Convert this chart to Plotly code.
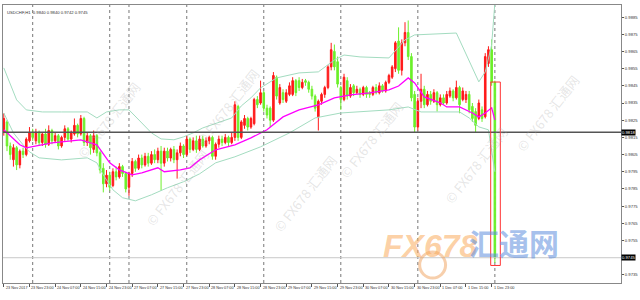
import plotly.graph_objects as go

# ---------------- data ----------------
header_text = "USDCHF,H1  0.9840 0.9840 0.9742 0.9745"

open_ = [0.9818,0.9824,0.9810,0.9802,0.9809,0.9799,0.9807,0.9805,0.9813,0.9818,
         0.9813,0.9818,0.9812,0.9817,0.9811,0.9819,0.9813,0.9816,0.9810,0.9815,
         0.9820,0.9814,0.9817,0.9822,0.9817,0.9826,0.9812,0.9816,0.9808,0.9816,
         0.9806,0.9797,0.9788,0.9793,0.9787,0.9795,0.9792,0.9798,0.9794,0.9786,
         0.9794,0.9801,0.9797,0.9803,0.9799,0.9804,0.9800,0.9805,0.9802,0.9807,
         0.9800,0.9807,0.9803,0.9808,0.9802,0.9806,0.9810,0.9805,0.9814,0.9808,
         0.9813,0.9808,0.9814,0.9810,0.9813,0.9815,0.9804,0.9811,0.9814,0.9812,
         0.9815,0.9812,0.9815,0.9833,0.9815,0.9822,0.9826,0.9821,0.9823,0.9837,
         0.9835,0.9841,0.9832,0.9832,0.9825,0.9850,0.9835,0.9841,0.9836,0.9840,
         0.9840,0.9848,0.9848,0.9844,0.9848,0.9847,0.9843,0.9839,0.9827,0.9836,
         0.9840,0.9844,0.9856,0.9865,0.9859,0.9844,0.9837,0.9848,0.9839,0.9845,
         0.9841,0.9843,0.9840,0.9844,0.9841,0.9840,0.9844,0.9841,0.9845,0.9842,
         0.9847,0.9850,0.9855,0.9871,0.9854,0.9870,0.9876,0.9862,0.9840,0.9821,
         0.9836,0.9843,0.9834,0.9840,0.9836,0.9841,0.9834,0.9838,0.9835,0.9839,
         0.9842,0.9838,0.9844,0.9837,0.9837,0.9840,0.9833,0.9830,0.9826,0.9831,
         0.9827,0.9858,0.9866,0.9847]
high = [0.9829,0.9825,0.9812,0.9811,0.9810,0.9808,0.9809,0.9815,0.9821,0.9820,
        0.9820,0.9819,0.9818,0.9820,0.9822,0.9820,0.9818,0.9817,0.9816,0.9822,
        0.9821,0.9819,0.9826,0.9823,0.9828,0.9827,0.9818,0.9817,0.9819,0.9817,
        0.9807,0.9800,0.9796,0.9795,0.9797,0.9798,0.9800,0.9799,0.9795,0.9795,
        0.9803,0.9802,0.9805,0.9805,0.9806,0.9806,0.9807,0.9808,0.9809,0.9810,
        0.9809,0.9809,0.9809,0.9810,0.9808,0.9812,0.9811,0.9816,0.9815,0.9815,
        0.9816,0.9816,0.9816,0.9815,0.9816,0.9816,0.9812,0.9816,0.9816,0.9817,
        0.9816,0.9818,0.9836,0.9834,0.9825,0.9828,0.9827,0.9827,0.9838,0.9839,
        0.9848,0.9842,0.9834,0.9833,0.9853,0.9851,0.9846,0.9843,0.9843,0.9847,
        0.9850,0.9849,0.9850,0.9849,0.9849,0.9848,0.9845,0.9840,0.9837,0.9841,
        0.9845,0.9857,0.9870,0.9869,0.9862,0.9845,0.9852,0.9850,0.9846,0.9846,
        0.9845,0.9844,0.9845,0.9845,0.9842,0.9845,0.9846,0.9847,0.9846,0.9848,
        0.9852,0.9857,0.9871,0.9879,0.9872,0.9882,0.9883,0.9864,0.9842,0.9838,
        0.9852,0.9845,0.9842,0.9842,0.9843,0.9842,0.9840,0.9840,0.9842,0.9844,
        0.9843,0.9848,0.9845,0.9844,0.9842,0.9842,0.9835,0.9832,0.9837,0.9833,
        0.9864,0.9868,0.9872,0.9848]
low = [0.9816,0.9807,0.9802,0.9798,0.9796,0.9797,0.9803,0.9804,0.9812,0.9813,
       0.9811,0.9810,0.9810,0.9809,0.9810,0.9811,0.9812,0.9808,0.9809,0.9813,
       0.9813,0.9812,0.9816,0.9815,0.9816,0.9810,0.9810,0.9805,0.9806,0.9804,
       0.9794,0.9783,0.9786,0.9784,0.9786,0.9790,0.9791,0.9792,0.9783,0.9781,
       0.9792,0.9795,0.9796,0.9797,0.9798,0.9798,0.9799,0.9800,0.9800,0.9784,
       0.9798,0.9801,0.9801,0.9800,0.9791,0.9804,0.9803,0.9804,0.9806,0.9807,
       0.9806,0.9807,0.9809,0.9809,0.9811,0.9802,0.9802,0.9809,0.9810,0.9811,
       0.9810,0.9811,0.9813,0.9813,0.9814,0.9820,0.9819,0.9820,0.9822,0.9832,
       0.9834,0.9830,0.9826,0.9821,0.9824,0.9837,0.9834,0.9835,0.9835,0.9839,
       0.9839,0.9839,0.9842,0.9843,0.9845,0.9841,0.9837,0.9830,0.9819,0.9834,
       0.9838,0.9843,0.9854,0.9854,0.9844,0.9831,0.9836,0.9837,0.9838,0.9839,
       0.9840,0.9838,0.9839,0.9838,0.9838,0.9839,0.9840,0.9840,0.9841,0.9841,
       0.9846,0.9849,0.9853,0.9852,0.9851,0.9868,0.9860,0.9836,0.9818,0.9819,
       0.9832,0.9832,0.9833,0.9834,0.9835,0.9830,0.9833,0.9834,0.9834,0.9838,
       0.9836,0.9837,0.9829,0.9836,0.9835,0.9829,0.9824,0.9818,0.9825,0.9824,
       0.9826,0.9856,0.9845,0.9742]
close = [0.9826,0.9810,0.9805,0.9809,0.9799,0.9807,0.9805,0.9814,0.9818,0.9815,
         0.9818,0.9812,0.9817,0.9811,0.9819,0.9813,0.9816,0.9810,0.9815,0.9820,
         0.9814,0.9818,0.9822,0.9817,0.9826,0.9812,0.9816,0.9809,0.9816,0.9806,
         0.9796,0.9788,0.9793,0.9786,0.9795,0.9792,0.9798,0.9794,0.9785,0.9794,
         0.9801,0.9797,0.9803,0.9799,0.9804,0.9800,0.9805,0.9802,0.9807,0.9800,
         0.9807,0.9803,0.9808,0.9802,0.9806,0.9810,0.9805,0.9814,0.9808,0.9813,
         0.9808,0.9814,0.9810,0.9813,0.9815,0.9804,0.9811,0.9814,0.9812,0.9815,
         0.9812,0.9815,0.9834,0.9815,0.9824,0.9826,0.9821,0.9826,0.9837,0.9834,
         0.9841,0.9832,0.9828,0.9825,0.9851,0.9839,0.9844,0.9837,0.9841,0.9845,
         0.9848,0.9841,0.9844,0.9847,0.9847,0.9843,0.9839,0.9832,0.9836,0.9840,
         0.9844,0.9856,0.9866,0.9856,0.9846,0.9837,0.9850,0.9839,0.9844,0.9841,
         0.9843,0.9840,0.9844,0.9840,0.9840,0.9844,0.9841,0.9845,0.9842,0.9847,
         0.9851,0.9856,0.9870,0.9854,0.9870,0.9876,0.9862,0.9838,0.9821,0.9836,
         0.9843,0.9834,0.9840,0.9836,0.9841,0.9834,0.9838,0.9835,0.9840,0.9842,
         0.9838,0.9844,0.9834,0.9842,0.9840,0.9831,0.9826,0.9822,0.9835,0.9826,
         0.9862,0.9866,0.9847,0.9745]
bar_idx = list(range(len(close)))

time_tick_idx = [0, 8, 16, 24, 32, 40, 48, 56, 64, 72, 80, 88, 96, 104, 112, 120, 128, 136, 144, 152]
time_tick_text = ["23 Nov 2017", "23 Nov 23:00", "24 Nov 07:00", "24 Nov 15:00", "24 Nov 23:00",
                  "27 Nov 07:00", "27 Nov 15:00", "27 Nov 23:00", "28 Nov 07:00", "28 Nov 15:00",
                  "28 Nov 23:00", "29 Nov 07:00", "29 Nov 15:00", "29 Nov 23:00", "30 Nov 07:00",
                  "30 Nov 15:00", "30 Nov 23:00", "1 Dec 07:00", "1 Dec 15:00", "1 Dec 23:00"]
# price scale labels (0.9745 sits under the bid box, as in MT4)
price_ticks = [0.9735, 0.9755, 0.9765, 0.9775, 0.9785, 0.9795, 0.9805, 0.9815,
               0.9825, 0.9835, 0.9845, 0.9855, 0.9865, 0.9875, 0.9885]
separator_idx = [9, 33, 39, 57, 81, 105, 129, 153]
hline_price = 0.9818
bid_price = 0.9745

ma_idx = [0, 5, 7, 10, 15, 24, 29, 33, 36, 40, 43, 48, 50, 55, 58, 61, 66, 72, 77, 82, 87, 92,
          98, 103, 108, 114, 120, 123, 126, 128, 131, 136, 138, 142, 146, 148, 150, 152, 153]
ma_val = [0.98194, 0.98107, 0.98089, 0.98101, 0.98118, 0.98136, 0.98107, 0.98002, 0.97961,
          0.97932, 0.97944, 0.97973, 0.97950, 0.97961, 0.97973, 0.98019, 0.98078, 0.98107,
          0.98147, 0.98194, 0.98269, 0.98310, 0.98339, 0.98380, 0.98397, 0.98409, 0.98426,
          0.98449, 0.98496, 0.98467, 0.98385, 0.98351, 0.98327, 0.98327, 0.98292, 0.98269,
          0.98292, 0.98322, 0.98252]
bb_up_idx = [0, 2, 4, 7, 12, 18, 26, 29, 32, 36, 39, 43, 46, 49, 53, 56, 59, 62, 66, 71, 74,
             77, 80, 85, 92, 98, 103, 106, 111, 120, 125, 128, 141, 145, 148, 150, 152, 153]
bb_up_val = [0.98554, 0.98455, 0.98368, 0.98310, 0.98298, 0.98298, 0.98298, 0.98263, 0.98298,
             0.98310, 0.98310, 0.98234, 0.98176, 0.98141, 0.98136, 0.98153, 0.98176, 0.98205,
             0.98229, 0.98263, 0.98333, 0.98380, 0.98438, 0.98496, 0.98525, 0.98531, 0.98600,
             0.98629, 0.98618, 0.98612, 0.98717, 0.98746, 0.98757, 0.98600, 0.98473, 0.98531,
             0.98688, 0.98932]
bb_lo_idx = [0, 1, 3, 6, 8, 11, 18, 26, 29, 31, 34, 37, 41, 46, 51, 56, 61, 66, 72, 80, 89,
             97, 105, 120, 126, 130, 142, 145, 148, 151, 153]
bb_lo_val = [0.98292, 0.98252, 0.98176, 0.98107, 0.98066, 0.98031, 0.98019, 0.98031, 0.98002,
             0.97932, 0.97845, 0.97799, 0.97781, 0.97816, 0.97857, 0.97892, 0.97938, 0.98002,
             0.98037, 0.98095, 0.98176, 0.98263, 0.98292, 0.98310, 0.98327, 0.98298, 0.98298,
             0.98263, 0.98211, 0.98194, 0.97950]

# ---------------- figure ----------------
UP = "#ff1a1a"
DOWN = "#6cf02a"
BAND = "#a3dcc0"

fig = go.Figure()
fig.add_trace(go.Scatter(x=bb_up_idx, y=bb_up_val, mode="lines",
                         line=dict(color=BAND, width=1), hoverinfo="skip"))
fig.add_trace(go.Scatter(x=bb_lo_idx, y=bb_lo_val, mode="lines",
                         line=dict(color=BAND, width=1), hoverinfo="skip"))
fig.add_trace(go.Candlestick(x=bar_idx, open=open_, high=high, low=low, close=close,
                             increasing=dict(line=dict(color=UP, width=1), fillcolor=UP),
                             decreasing=dict(line=dict(color=DOWN, width=1), fillcolor=DOWN),
                             whiskerwidth=0))
fig.add_trace(go.Scatter(x=ma_idx, y=ma_val, mode="lines",
                         line=dict(color="#ff00ff", width=1.3), hoverinfo="skip"))

# period separators
for s in separator_idx:
    fig.add_shape(type="line", xref="x", yref="paper", x0=s, x1=s, y0=0, y1=1,
                  line=dict(color="#777", width=1, dash="dot"), layer="below")
# horizontal level and bid line
fig.add_shape(type="line", xref="paper", yref="y", x0=0, x1=1, y0=hline_price, y1=hline_price,
              line=dict(color="#555", width=1.5))
fig.add_shape(type="line", xref="paper", yref="y", x0=0, x1=1, y0=bid_price, y1=bid_price,
              line=dict(color="#c8c8c8", width=1))
# rectangle around last bar
last = bar_idx[-1]
fig.add_shape(type="rect", xref="x", yref="y", x0=last - 1.3, x1=last + 1.7,
              y0=low[-1] - 0.00015, y1=open_[-1] + 0.00002,
              line=dict(color="#ff3333", width=1), fillcolor="rgba(0,0,0,0)")

# watermarks
def px2paper(px, py):
    return (px - 2) / 620.0, (283 - py) / 278.0

wm = [(70, 75), (228, 62), (372, 95), (588, 68), (138, 232), (305, 238), (515, 210)]
for (px, py) in wm:
    xp, yp = px2paper(px, py)
    fig.add_annotation(x=xp, y=yp, xref="paper", yref="paper", text="© FX678 汇通网",
                       showarrow=False, textangle=-52,
                       font=dict(size=13, color="rgba(170,170,170,0.3)", family="Noto Sans CJK SC"))
# big logo bottom right
xp, yp = px2paper(480, 266)
fig.add_annotation(x=xp, y=yp, xref="paper", yref="paper", text="<b><i>FX678</i></b>",
                   showarrow=False, font=dict(size=32, color="rgba(250,170,90,0.55)", family="Liberation Sans"))
xp, yp = px2paper(562, 266)
fig.add_annotation(x=xp, y=yp, xref="paper", yref="paper", text="<b>汇通网</b>",
                   showarrow=False, font=dict(size=30, color="rgba(90,140,220,0.55)", family="Noto Sans CJK SC"))
fig.add_shape(type="circle", xref="paper", yref="paper",
              x0=(420 - 2) / 620, x1=(446 - 2) / 620, y0=(283 - 278) / 278, y1=(283 - 252) / 278,
              line=dict(color="rgba(240,160,90,0.5)", width=3))

# x tick labels (left aligned like MT4)
for i, t in zip(time_tick_idx, time_tick_text):
    fig.add_annotation(x=i, y=0, xref="x", yref="paper", text=t, showarrow=False,
                       xanchor="left", yanchor="top", xshift=0, yshift=-1,
                       font=dict(size=3.8, color="#333", family="Liberation Sans"))

# price boxes
for p in [hline_price, bid_price]:
    fig.add_annotation(x=1, y=p, xref="paper", yref="y", text="%.4f" % p, showarrow=False,
                       xanchor="left", yanchor="middle", xshift=0, bgcolor="#000",
                       font=dict(size=4.2, color="#fff", family="Liberation Sans"), borderpad=0)

# header
fig.add_annotation(x=0.003, y=0.99, xref="paper", yref="paper", text=header_text, showarrow=False,
                   xanchor="left", yanchor="top", font=dict(size=4.2, color="#333", family="Liberation Sans"))

fig.update_layout(
    width=640, height=300, margin=dict(l=2, r=18, t=5, b=17),
    paper_bgcolor="white", plot_bgcolor="white", showlegend=False,
    xaxis=dict(range=[-0.25, 192.3], showgrid=False, zeroline=False, rangeslider=dict(visible=False),
               showline=True, linecolor="#888", linewidth=1, mirror=True,
               tickvals=time_tick_idx, ticktext=[""] * len(time_tick_idx),
               ticks="outside", ticklen=3, tickcolor="#555"),
    yaxis=dict(range=[0.97303, 0.98920], side="right", showgrid=False, zeroline=False,
               showline=True, linecolor="#888", linewidth=1, mirror=True,
               tickvals=price_ticks, ticktext=["%.4f" % p for p in price_ticks],
               ticks="outside", ticklen=2, tickcolor="#555",
               tickfont=dict(size=4.2, color="#333", family="Liberation Sans")),
)

fig.write_html("out.html")
